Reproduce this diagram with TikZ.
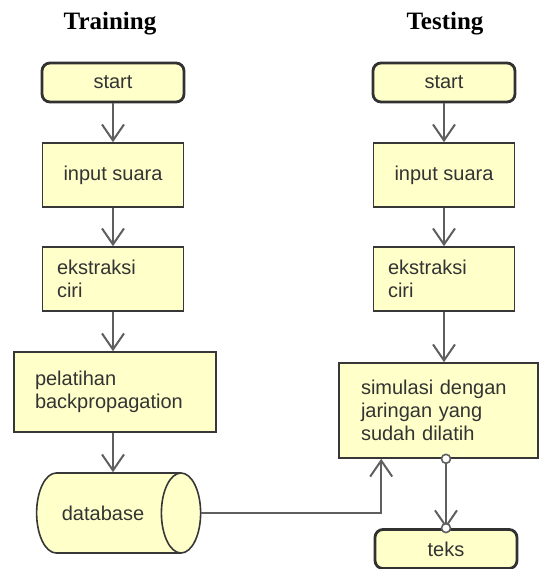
\documentclass[tikz,border=0pt]{standalone}
\usepackage{fontspec}
\setmainfont{Liberation Sans}
\newfontfamily\titlefont{Liberation Serif}
\usetikzlibrary{arrows.meta,shapes.geometric}
\definecolor{boxfill}{RGB}{255,255,202}
\definecolor{boxline}{RGB}{55,55,55}
\definecolor{flowline}{RGB}{95,95,95}
\begin{document}
\begin{tikzpicture}[%
        x=.5pt,y=-.5pt,%
        font=\fontsize{10}{11.5}\selectfont,%
        title/.style={%
            font=\titlefont\bfseries\fontsize{12.5}{14}\selectfont%
        },%
        terminal/.style={%
            rounded corners=4pt,%
            minimum width=71pt,%
            minimum height=19.5pt,%
            line width=1.4pt,%
            draw=boxline!90!black,%
            fill=boxfill,%
            text=black!80%
        },%
        process/.style={%
            rectangle,%
            minimum width=70.5pt,%
            minimum height=32pt,%
            line width=.8pt,%
            draw=boxline,%
            fill=boxfill,%
            text=black!80%
        },%
        flow/.style={%
            draw=flowline,%
            line width=1pt,%
            -{Straight Barb[length=8pt,width=11pt]}%
        },%
        port/.style={%
            circle,%
            inner sep=0pt,%
            minimum size=4.5pt,%
            draw=flowline,%
            line width=.8pt,%
            fill=white%
        }%
    ]
    \useasboundingbox (0,0) rectangle (540,569);
    % judul
    \node (training) at (110,24) [title]{Training};
    \node (testing)  at (445,24) [title]{Testing};
    % kolom training
    \node (startL) at (113, 82.5) [terminal]{start};
    \node (inputL) at (113,175)   [process]{input suara};
    \node (ekstrL) at (113,279)   [process,align=left,text width=56pt,inner sep=0pt]{ekstraksi\\ciri};
    \node (latih)  at (115,392)   [process,minimum width=101pt,minimum height=40pt,align=left,text width=80pt,inner sep=0pt]{pelatihan\\backpropagation};
    \node (db) at (103,513) [cylinder,shape aspect=1.4,minimum width=40pt,minimum height=82pt,line width=.8pt,draw=boxline,fill=boxfill,text=black!80]{database};
    % kolom testing
    \node (startR) at (444, 82.5) [terminal]{start};
    \node (inputR) at (444,175)   [process]{input suara};
    \node (ekstrR) at (444,279)   [process,align=left,text width=56pt,inner sep=0pt]{ekstraksi\\ciri};
    \node (simul)  at (438.5,410.5) [process,minimum width=99.5pt,minimum height=47.5pt,align=left,text width=77.5pt,inner sep=0pt]{simulasi dengan\\jaringan yang\\sudah dilatih};
    \node (teks)   at (446,549)   [terminal]{teks};
    % alur
    \draw [flow] (startL) -- (inputL);
    \draw [flow] (inputL) -- (ekstrL);
    \draw [flow] (ekstrL) -- (ekstrL |- latih.north);
    \draw [flow] (latih.south -| ekstrL) -- (ekstrL |- db.north);
    \coordinate (masuk) at ([xshift=21.5pt]simul.south west);
    \draw [flow] (db.east) -| (masuk);
    \draw [flow] (startR) -- (inputR);
    \draw [flow] (inputR) -- (ekstrR);
    \draw [flow] (ekstrR) -- (ekstrR |- simul.north);
    \coordinate (keluar) at (teks |- simul.south);
    \draw [flow] (keluar) -- (teks.north);
    \node (p1) at (keluar) [port]{};
    \node (p2) at (teks.north) [port]{};
\end{tikzpicture}
\end{document}
